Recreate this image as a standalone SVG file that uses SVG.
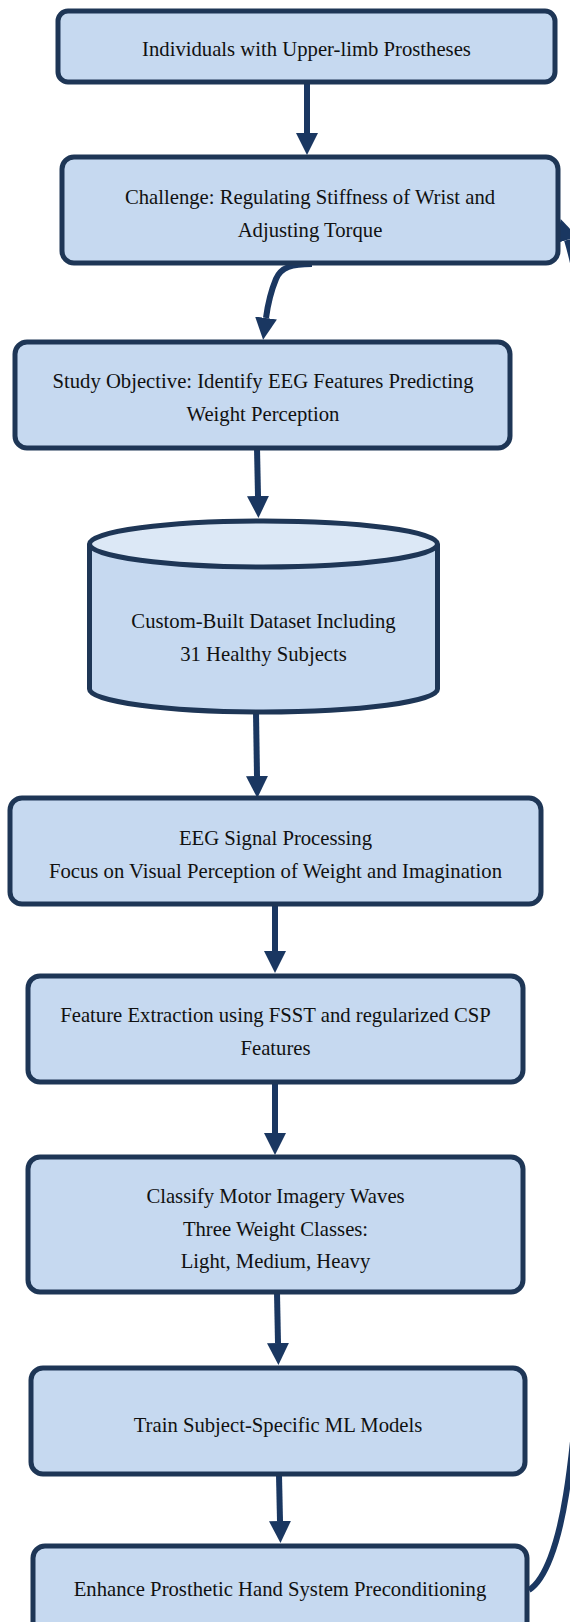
<svg xmlns="http://www.w3.org/2000/svg" width="570" height="1622" viewBox="0 0 570 1622">
<defs>
<style>
.box{fill:#c6d9f0;stroke:#1e3656;stroke-width:5}
.top{fill:#dce8f6;stroke:#1e3656;stroke-width:5}
.lbl{font-family:"Liberation Serif","Times New Roman",serif;font-size:20.7px;fill:#111;text-anchor:middle}
.edge{fill:none;stroke:#1a3761;stroke-width:6}
</style>
<marker id="ah" viewBox="0 0 22 22" refX="0" refY="11" markerWidth="22" markerHeight="22" markerUnits="userSpaceOnUse" orient="auto">
<path d="M0,0 L22,11 L0,22 z" fill="#1a3761"/>
</marker>
</defs>
<rect width="570" height="1622" fill="#ffffff"/>
<g id="connectors">
<path class="edge" marker-end="url(#ah)" d="M307,82 L307,133"/>
<path class="edge" marker-end="url(#ah)" d="M312,264 C292,264 281,267 276,279 C271,291 268,303 266,318"/>
<path class="edge" marker-end="url(#ah)" d="M257,448 L258,496"/>
<path class="edge" marker-end="url(#ah)" d="M256,712 L257,776"/>
<path class="edge" marker-end="url(#ah)" d="M275,905 L275,951"/>
<path class="edge" marker-end="url(#ah)" d="M275,1083 L275,1133"/>
<path class="edge" marker-end="url(#ah)" d="M277,1293 L278,1343"/>
<path class="edge" marker-end="url(#ah)" d="M279,1475 L280,1521"/>
<path class="edge" marker-end="url(#ah)" d="M529,1590 C545,1580 558,1545 566,1495 C590,1350 600,900 598,600 C596,400 585,300 567,240"/>
</g>
<g id="n1">
<rect class="box" x="58" y="11" width="497" height="71" rx="10"/>
<text class="lbl" x="306.5" y="56">Individuals with Upper-limb Prostheses</text>
</g>
<g id="n2">
<rect class="box" x="62" y="157" width="496" height="106" rx="12"/>
<text class="lbl" x="310" y="204">Challenge: Regulating Stiffness of Wrist and</text>
<text class="lbl" x="310" y="237">Adjusting Torque</text>
</g>
<g id="n3">
<rect class="box" x="15" y="342" width="495" height="106" rx="12"/>
<text class="lbl" x="263" y="388">Study Objective: Identify EEG Features Predicting</text>
<text class="lbl" x="263" y="421">Weight Perception</text>
</g>
<g id="n4">
<path class="box" d="M89.5,544 L89.5,689 A174,23 0 0 0 437.5,689 L437.5,544"/>
<ellipse class="top" cx="263.5" cy="544" rx="174" ry="23"/>
<text class="lbl" x="263.5" y="628">Custom-Built Dataset Including</text>
<text class="lbl" x="263.5" y="661">31 Healthy Subjects</text>
</g>
<g id="n5">
<rect class="box" x="10" y="798" width="531" height="106" rx="12"/>
<text class="lbl" x="275.5" y="845">EEG Signal Processing</text>
<text class="lbl" x="275.5" y="878">Focus on Visual Perception of Weight and Imagination</text>
</g>
<g id="n6">
<rect class="box" x="28" y="976" width="495" height="106" rx="12"/>
<text class="lbl" x="275.5" y="1022">Feature Extraction using FSST and regularized CSP</text>
<text class="lbl" x="275.5" y="1055">Features</text>
</g>
<g id="n7">
<rect class="box" x="28" y="1157" width="495" height="135" rx="12"/>
<text class="lbl" x="275.5" y="1203">Classify Motor Imagery Waves</text>
<text class="lbl" x="275.5" y="1236">Three Weight Classes:</text>
<text class="lbl" x="275.5" y="1268">Light, Medium, Heavy</text>
</g>
<g id="n8">
<rect class="box" x="31" y="1368" width="494" height="106" rx="12"/>
<text class="lbl" x="278" y="1432">Train Subject-Specific ML Models</text>
</g>
<g id="n9">
<rect class="box" x="33" y="1546" width="494" height="106" rx="12"/>
<text class="lbl" x="280" y="1596">Enhance Prosthetic Hand System Preconditioning</text>
</g>
</svg>
